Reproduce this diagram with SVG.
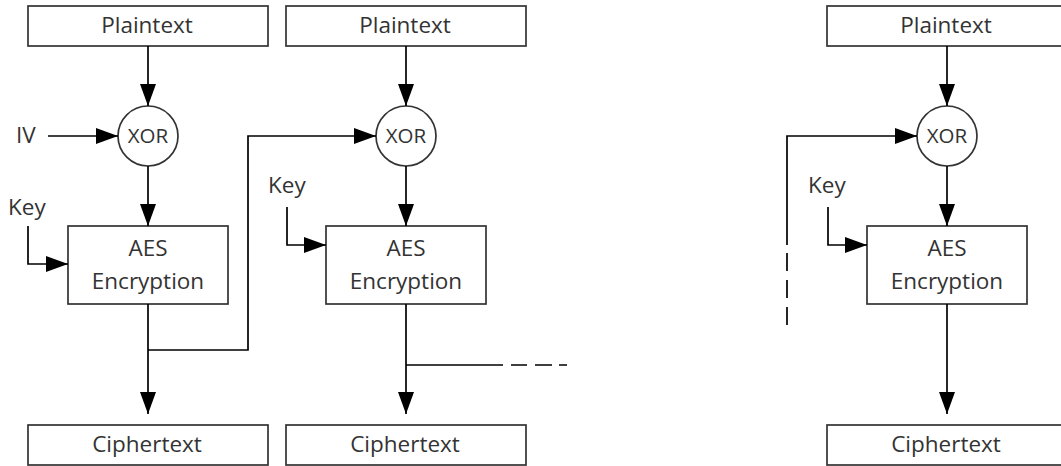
<svg xmlns="http://www.w3.org/2000/svg" width="1061" height="466" viewBox="0 0 1061 466">
  <style>
    .box { fill: #ffffff; stroke: #333333; stroke-width: 1.7; }
    .xor { fill: #ffffff; stroke: #333333; stroke-width: 1.7; }
    .lbl { font-family: "Open Sans", "Liberation Sans", sans-serif; font-size: 22.5px; fill: #333333; }
    .small { font-family: "Open Sans", "Liberation Sans", sans-serif; font-size: 20.5px; fill: #333333; }
    .wire { fill: none; stroke: #000000; stroke-width: 1.7; }
    .arrow { fill: none; stroke: #000000; stroke-width: 1.7; marker-end: url(#head); }
  </style>
  <defs>
    <marker id="head" markerUnits="userSpaceOnUse" markerWidth="22" markerHeight="16" refX="22" refY="8" orient="auto">
      <path d="M0,0 L22,8 L0,16 z" fill="#000000"/>
    </marker>
  </defs>
  <rect width="1061" height="466" fill="#ffffff"/>

  <!-- block 1 -->
  <g id="plain1"><rect class="box" x="28" y="6" width="240" height="40"/><text class="lbl" x="147" y="33" text-anchor="middle">Plaintext</text></g>
  <g id="xor1"><circle class="xor" cx="148" cy="136" r="30"/><text class="small" x="148" y="143" text-anchor="middle">XOR</text></g>
  <g id="aes1"><rect class="box" x="68" y="226" width="160" height="78"/><text class="lbl" x="148" y="256" text-anchor="middle">AES</text><text class="lbl" x="148" y="289" text-anchor="middle">Encryption</text></g>
  <g id="cipher1"><rect class="box" x="28" y="425" width="240" height="40"/><text class="lbl" x="147" y="452" text-anchor="middle">Ciphertext</text></g>
  <g id="iv"><text class="lbl" x="16" y="143">IV</text></g>
  <g id="key1"><text class="lbl" x="8" y="215">Key</text></g>

  <!-- block 2 -->
  <g id="plain2"><rect class="box" x="286" y="6" width="240" height="40"/><text class="lbl" x="405" y="33" text-anchor="middle">Plaintext</text></g>
  <g id="xor2"><circle class="xor" cx="406" cy="136" r="30"/><text class="small" x="406" y="143" text-anchor="middle">XOR</text></g>
  <g id="aes2"><rect class="box" x="326" y="226" width="160" height="78"/><text class="lbl" x="406" y="256" text-anchor="middle">AES</text><text class="lbl" x="406" y="289" text-anchor="middle">Encryption</text></g>
  <g id="cipher2"><rect class="box" x="286" y="425" width="240" height="40"/><text class="lbl" x="405" y="452" text-anchor="middle">Ciphertext</text></g>
  <g id="key2"><text class="lbl" x="268" y="193">Key</text></g>

  <!-- block n -->
  <g id="plain3"><rect class="box" x="827" y="6" width="240" height="40"/><text class="lbl" x="946" y="33" text-anchor="middle">Plaintext</text></g>
  <g id="xor3"><circle class="xor" cx="947" cy="136" r="30"/><text class="small" x="947" y="143" text-anchor="middle">XOR</text></g>
  <g id="aes3"><rect class="box" x="867" y="226" width="160" height="78"/><text class="lbl" x="947" y="256" text-anchor="middle">AES</text><text class="lbl" x="947" y="289" text-anchor="middle">Encryption</text></g>
  <g id="cipher3"><rect class="box" x="827" y="425" width="240" height="40"/><text class="lbl" x="946" y="452" text-anchor="middle">Ciphertext</text></g>
  <g id="key3"><text class="lbl" x="808" y="193">Key</text></g>

  <g id="connectors">
    <!-- block 1 -->
    <path class="arrow" d="M148,46 V106"/>
    <path class="arrow" d="M48,136 H118"/>
    <path class="arrow" d="M148,166 V226"/>
    <path class="arrow" d="M28,226 V264 H68"/>
    <path class="arrow" d="M148,304 V414"/>
    <!-- chaining 1 -> 2 -->
    <path class="arrow" d="M148,350 H248 V136 H376"/>
    <!-- block 2 -->
    <path class="arrow" d="M406,46 V106"/>
    <path class="arrow" d="M406,166 V226"/>
    <path class="arrow" d="M287,207 V245 H326"/>
    <path class="arrow" d="M406,304 V414"/>
    <path class="wire" d="M406,365 H503"/>
    <path class="wire" d="M511,365 H527 M535,365 H552 M559,365 H567"/>
    <!-- block n -->
    <path class="wire" d="M787,325 V307 M787,298 V280 M787,271 V253"/>
    <path class="arrow" d="M787,245 V136 H917"/>
    <path class="arrow" d="M947,46 V106"/>
    <path class="arrow" d="M947,166 V226"/>
    <path class="arrow" d="M828,207 V245 H867"/>
    <path class="arrow" d="M947,304 V414"/>
  </g>
</svg>
